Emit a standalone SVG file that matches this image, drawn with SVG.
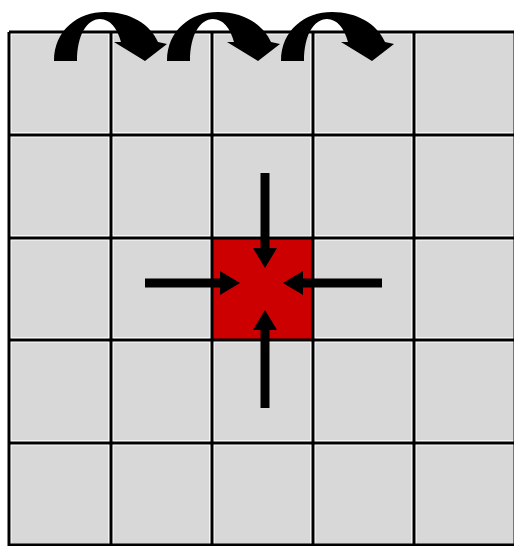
<svg xmlns="http://www.w3.org/2000/svg" width="514" height="546" viewBox="0 0 514 546">
<defs>
<style>
.cell{fill:#d8d8d8;stroke:#ffffff;stroke-width:5}
.red{fill:#cc0000;stroke:none}
.grid{stroke:#000;stroke-width:3;fill:none}
.shaft{stroke:#000;stroke-width:9;fill:none}
.curve{fill:#000;stroke:none}
</style>
<marker id="ah" viewBox="0 0 20 24" refX="1" refY="12" markerWidth="20" markerHeight="24" markerUnits="userSpaceOnUse" orient="auto">
<path d="M0,0 L20,12 L0,24 Z" fill="#000"/>
</marker>
<path id="jump" d="M54,61 C54,30 78,12 105,12 C130,12 150,24 158,42 L167,44 L145,61 L114,42 L121,42 C117,28 110,19 100,19 C87,19 77,35 77,61 Z"/>
</defs>
<rect x="0" y="0" width="514" height="546" fill="#fff"/>
<g id="cells">
<g id="r0">
<rect class="cell" x="9" y="32" width="102" height="103"/><rect class="cell" x="111" y="32" width="101" height="103"/><rect class="cell" x="212" y="32" width="101" height="103"/><rect class="cell" x="313" y="32" width="101" height="103"/><rect class="cell" x="414" y="32" width="102" height="103"/>
</g>
<g id="r1">
<rect class="cell" x="9" y="135" width="102" height="103"/><rect class="cell" x="111" y="135" width="101" height="103"/><rect class="cell" x="212" y="135" width="101" height="103"/><rect class="cell" x="313" y="135" width="101" height="103"/><rect class="cell" x="414" y="135" width="102" height="103"/>
</g>
<g id="r2">
<rect class="cell" x="9" y="238" width="102" height="102"/><rect class="cell" x="111" y="238" width="101" height="102"/><rect class="cell" x="313" y="238" width="101" height="102"/><rect class="cell" x="414" y="238" width="102" height="102"/>
</g>
<g id="r3">
<rect class="cell" x="9" y="340" width="102" height="103"/><rect class="cell" x="111" y="340" width="101" height="103"/><rect class="cell" x="212" y="340" width="101" height="103"/><rect class="cell" x="313" y="340" width="101" height="103"/><rect class="cell" x="414" y="340" width="102" height="103"/>
</g>
<g id="r4">
<rect class="cell" x="9" y="443" width="102" height="104"/><rect class="cell" x="111" y="443" width="101" height="104"/><rect class="cell" x="212" y="443" width="101" height="104"/><rect class="cell" x="313" y="443" width="101" height="104"/><rect class="cell" x="414" y="443" width="102" height="104"/>
</g>
</g>
<g id="target"><rect class="red" x="212" y="238" width="101" height="102"/></g>
<g id="gridlines" class="grid">
<path d="M9,32 V546 M111,32 V546 M212,32 V546 M313,32 V546 M414,32 V546 M515,32 V546"/>
<path d="M9,32 H516 M9,135 H516 M9,238 H516 M9,340 H516 M9,443 H516 M9,545 H516"/>
</g>
<g id="connectors">
<line class="shaft" x1="265" y1="173" x2="265" y2="249" marker-end="url(#ah)"/>
<line class="shaft" x1="145" y1="283" x2="221" y2="283" marker-end="url(#ah)"/>
<line class="shaft" x1="382" y1="283" x2="302" y2="283" marker-end="url(#ah)"/>
<line class="shaft" x1="265" y1="408" x2="265" y2="329" marker-end="url(#ah)"/>
<use href="#jump" class="curve"/>
<use href="#jump" class="curve" transform="translate(113,0)"/>
<use href="#jump" class="curve" transform="translate(227,0)"/>
</g>
</svg>
